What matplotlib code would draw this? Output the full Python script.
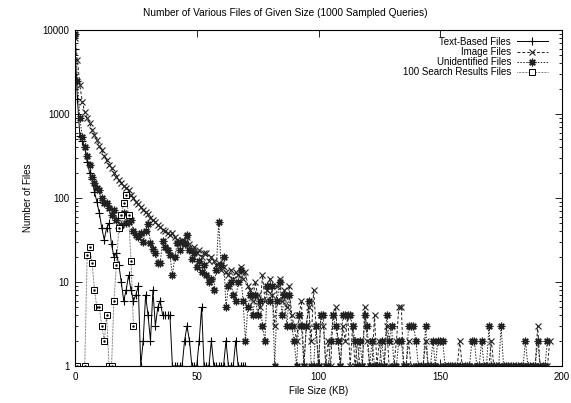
import numpy as np
import matplotlib
matplotlib.use("Agg")
import matplotlib.pyplot as plt
from matplotlib.ticker import FixedLocator, LogLocator, NullFormatter

plt.rcParams['font.family'] = ['Liberation Sans', 'DejaVu Sans']

# counts per 1 KB bin, starting at 0 KB
text_files = [6000, 1500, 550, 480, 400, 270, 200, 170, 118, 90,
              66, 44, 32, 44, 50, 28, 20, 22, 16, 10,
              6, 8, 12, 8, 6, 7, 9, 1, 2, 7,
              4, 2, 8, 3, 5, 6, 4, 4, 4, 4,
              1, 1, 1, 1, 1, 2, 3, 2, 1, 1,
              1, 2, 5, 1, 1, 1, 2, 1, 1, 1,
              1, 1, 2, 1, 1, 1, 2, 1, 1, 1, 1]

image_files = [8000, 4400, 2200, 1400, 1050, 900, 780, 650, 560, 490,
               420, 370, 320, 280, 250, 230, 200, 180, 163, 150,
               140, 130, 125, 110, 100, 90, 85, 78, 72, 68,
               64, 58, 55, 52, 48, 45, 42, 40, 38, 36,
               38, 34, 32, 30, 32, 30, 34, 28, 24, 26,
               22, 24, 20, 22, 22, 18, 20, 18, 16, 17,
               14, 15, 13, 12, 14, 11, 13, 12, 15, 11,
               13, 9, 8, 6, 10, 7, 5, 12, 6, 8,
               11, 7, 3, 9, 11, 6, 8, 5, 9, 4,
               3, 2, 4, 6, 1, 3, 5, 2, 8, 3,
               1, 4, 3, 1, 2, 1, 4, 5, 2, 1,
               3, 2, 4, 1, 3, 1, 2, 1, 1, 5,
               2, 1, 1, 4, 1, 2, 1, 1, 3, 1,
               1, 1, 2, 5, 5, 1, 1, 2, 1, 1,
               1, 1, 1, 1, 2, 1, 1, 1, 1, 1,
               1, 1, 1, 1, 1, 1, 1, 1, 2, 1,
               1, 1, 1, 1, 1, 1, 1, 1, 1, 1,
               1, 2, 1, 1, 1, 1, 1, 1, 1, 1,
               1, 1, 1, 1, 1, 1, 1, 1, 1, 1,
               3, 1, 1, 1, 1, 2]

unident_files = [9000, 2500, 900, 530, 400, 320, 250, 178, 150, 130,
                 125, 100, 87, 87, 75, 62, 72, 55, 44, 48,
                 66, 50, 52, 55, 40, 36, 34, 38, 30, 40,
                 49, 29, 25, 22, 17, 17, 31, 26, 24, 21,
                 12, 20, 29, 24, 30, 28, 36, 24, 19, 22,
                 15, 18, 13, 16, 12, 10, 11, 8, 14, 52,
                 16, 20, 5, 9, 10, 7, 6, 10, 14, 6,
                 2, 5, 7, 4, 7, 4, 6, 3, 2, 9,
                 6, 9, 1, 6, 10, 4, 7, 3, 7, 3,
                 2, 1, 4, 3, 1, 3, 6, 1, 1, 3,
                 1, 4, 4, 1, 1, 2, 4, 3, 2, 1,
                 4, 4, 4, 4, 3, 2, 1, 2, 1, 4,
                 3, 1, 2, 1, 1, 1, 2, 1, 4, 2,
                 3, 1, 1, 2, 2, 1, 1, 3, 3, 3,
                 2, 1, 1, 1, 3, 1, 1, 2, 1, 2,
                 2, 2, 1, 1, 1, 1, 1, 1, 1, 1,
                 1, 1, 1, 2, 2, 1, 1, 2, 1, 1,
                 3, 1, 1, 1, 1, 3, 1, 1, 1, 1,
                 1, 1, 1, 1, 1, 2, 1, 1, 1, 1,
                 2, 1, 1, 1, 2]

search_kb = [1, 4, 5, 6, 7, 8, 9, 10, 11, 12, 13, 14, 15, 16, 17, 18, 19, 20, 21, 22, 23, 24]
search_files = [1, 1, 21, 26, 17, 8, 5, 5, 3, 2, 4, 1, 1, 6, 16, 44, 62, 87, 108, 62, 18, 3]

fig = plt.figure(figsize=(5.71, 4.03), dpi=100)
ax = fig.add_axes([75/571, 37/403, 487/571, 336/403])

lw = 0.7
fs = 7
ax.plot(np.arange(len(text_files)), text_files, color='black', lw=lw,
        marker='+', ms=6, mew=0.8, label='Text-Based Files')
ax.plot(np.arange(len(image_files)), image_files, color='#222222', lw=lw,
        ls=(0, (3, 2)), marker='x', ms=4.5, mew=0.8, label='Image Files')
ax.plot(np.arange(len(unident_files)), unident_files, color='#222222', lw=lw,
        ls=(0, (1.5, 1.5)), marker=(8, 2, 0), ms=5.5, mew=0.9, label='Unidentified Files')
ax.plot(search_kb, search_files, color='#333333', lw=lw, ls=(0, (0.6, 0.9)),
        marker='s', ms=4.5, mew=0.7, mfc='white', mec='black',
        label='100 Search Results Files')
ax.plot(search_kb, search_files, ls='none', marker='.', ms=1.5, color='black')

ax.set_yscale('log')
ax.set_xlim(0, 200)
ax.set_ylim(1, 10000)
ax.xaxis.set_major_locator(FixedLocator([0, 50, 100, 150, 200]))
ax.set_yticks([1, 10, 100, 1000, 10000])
ax.set_yticklabels(['1', '10', '100', '1000', '10000'])
ax.yaxis.set_minor_locator(LogLocator(base=10, subs=np.arange(2, 10)))
ax.yaxis.set_minor_formatter(NullFormatter())
ax.tick_params(which='both', direction='in', top=True, right=True, labelsize=fs,
               width=0.6, pad=4)
ax.tick_params(which='major', length=5)
ax.tick_params(which='minor', length=2.5)
for s in ax.spines.values():
    s.set_linewidth(0.8)

fig.text(0.5, 1 - 13/403, 'Number of Various Files of Given Size (1000 Sampled Queries)',
         fontsize=7.3, ha='center', va='center')
ax.set_xlabel('File Size (KB)', fontsize=fs, labelpad=3)
ax.set_ylabel('Number of Files', fontsize=fs, labelpad=7)

ax.legend(loc='upper right', frameon=False, fontsize=fs, markerfirst=False,
          handlelength=3.2, handletextpad=0.6, labelspacing=0.02,
          borderaxespad=0.3, bbox_to_anchor=(0.985, 1.0))

fig.savefig('out.png', dpi=100)
